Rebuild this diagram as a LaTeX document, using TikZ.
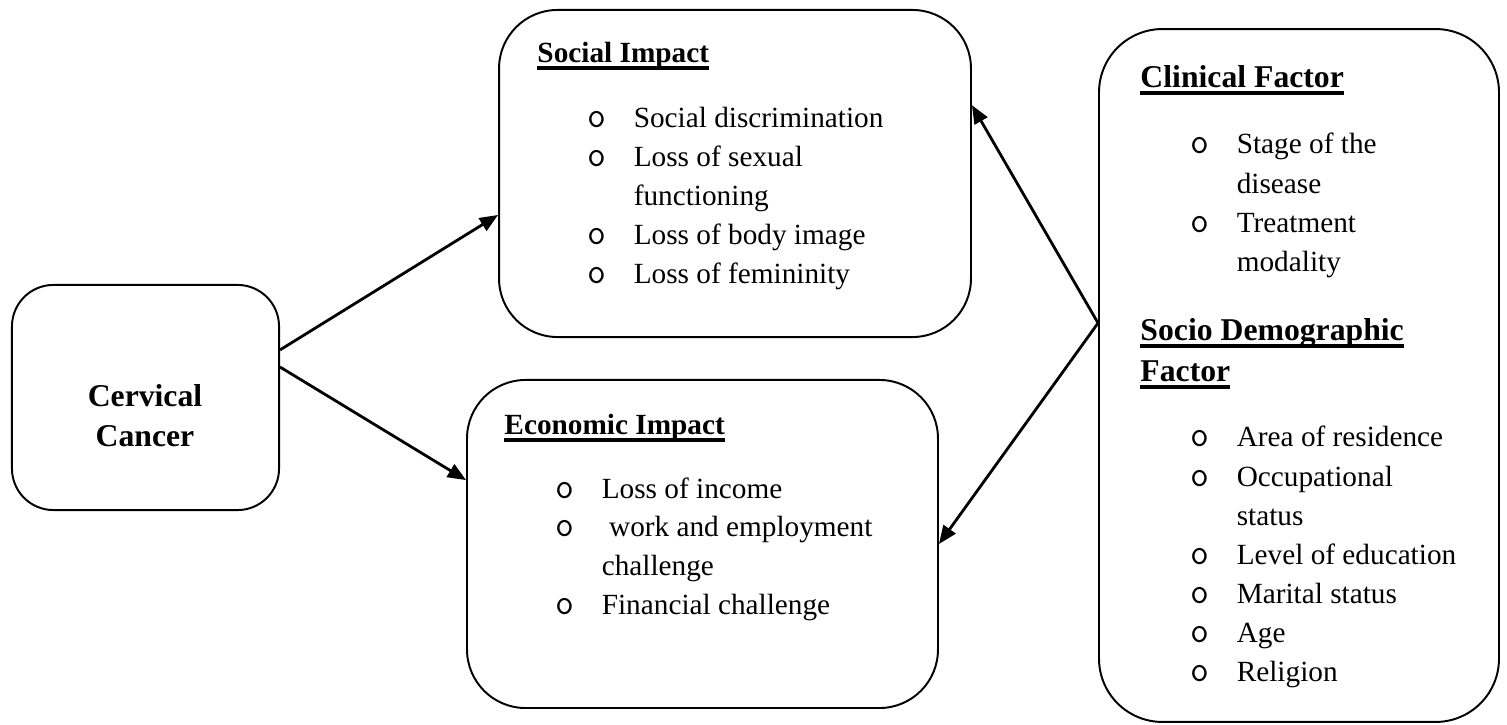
\documentclass[tikz,border=0pt]{standalone}
\usepackage{fontspec}
\setmainfont{Liberation Serif}
\usetikzlibrary{arrows.meta}
\newcommand{\bul}{\makebox[19pt][l]{\ttfamily\fontsize{15}{15}\selectfont o}}
\newcommand{\uhead}[1]{\setbox0\hbox{#1}\rlap{\rule[-2.7pt]{\wd0}{1.3pt}}\box0}

\begin{document}
\begin{tikzpicture}[x=0.41pt,y=-0.41pt,line join=round]
    \tikzstyle{box}=[draw,line width=0.8pt,rounded corners=24pt,inner sep=0pt]
    \tikzstyle{head}=[anchor=base west,inner sep=0pt,font=\fontsize{12}{15.9}\selectfont\bfseries]
    \tikzstyle{list}=[anchor=base west,inner sep=0pt,font=\fontsize{12}{15.9}\selectfont]
    \tikzstyle{link}=[-{Triangle[length=7.5pt,width=6pt]},line width=1.15pt]

\useasboundingbox (0,0) rectangle (1507,725);

% boxes
\node[box,rounded corners=17pt,minimum width=109.5pt,minimum height=92.3pt] (cc) at (145.5,397.5) {};
\node[box,minimum width=193.5pt,minimum height=134.1pt] (social) at (735,173.5) {};
\node[box,minimum width=193.1pt,minimum height=134.5pt] (econ) at (702.5,544) {};
\node[box,rounded corners=26pt,minimum width=164pt,minimum height=284.1pt] (factor) at (1299,375.5) {};

% texts
\node[anchor=base,inner sep=0pt,font=\fontsize{13}{16.4}\selectfont\bfseries] (cctext) at (145,407)
    {\begin{tabular}[t]{@{}c@{}}Cervical\\Cancer\end{tabular}};

\node[head] (socialhead) at (537,63) {\uhead{Social Impact}};
\node[list] (sociallist) at (587,128) {\begin{tabular}[t]{@{}l@{}}
    \bul Social discrimination\\
    \bul Loss of sexual\\
    \hspace*{19pt}functioning\\
    \bul Loss of body image\\
    \bul Loss of femininity\end{tabular}};

\node[head] (econhead) at (504,435) {\uhead{Economic Impact}};
\node[list] (econlist) at (555,498) {\begin{tabular}[t]{@{}l@{}}
    \bul Loss of income\\
    \bul\ work and employment\\
    \hspace*{19pt}challenge\\
    \bul Financial challenge\end{tabular}};

\node[head,font=\fontsize{13}{16.8}\selectfont\bfseries] (clinhead) at (1140,88) {\uhead{Clinical Factor}};
\node[list,font=\fontsize{12}{16}\selectfont] (clinlist) at (1190,154) {\begin{tabular}[t]{@{}l@{}}
    \bul Stage of the\\
    \hspace*{19pt}disease\\
    \bul Treatment\\
    \hspace*{19pt}modality\end{tabular}};

\node[head,font=\fontsize{13}{16.8}\selectfont\bfseries] (sociohead) at (1140,341) {\begin{tabular}[t]{@{}l@{}}
    \uhead{Socio Demographic}\\
    \uhead{Factor}\end{tabular}};
\node[list,font=\fontsize{12}{16}\selectfont] (sociolist) at (1190,447) {\begin{tabular}[t]{@{}l@{}}
    \bul Area of residence\\
    \bul Occupational\\
    \hspace*{19pt}status\\
    \bul Level of education\\
    \bul Marital status\\
    \bul Age\\
    \bul Religion\end{tabular}};

% arrows
\draw[link] ([yshift=19.5pt]cc.east) -- ([yshift=-17pt]social.west);
\draw[link] ([yshift=12.5pt]cc.east) -- ([yshift=26.2pt]econ.west);
\draw[link] ([yshift=21.5pt]factor.west) -- ([yshift=28pt]social.east);
\draw[link] ([yshift=21.5pt]factor.west) -- (econ.east);
\end{tikzpicture}
\end{document}
